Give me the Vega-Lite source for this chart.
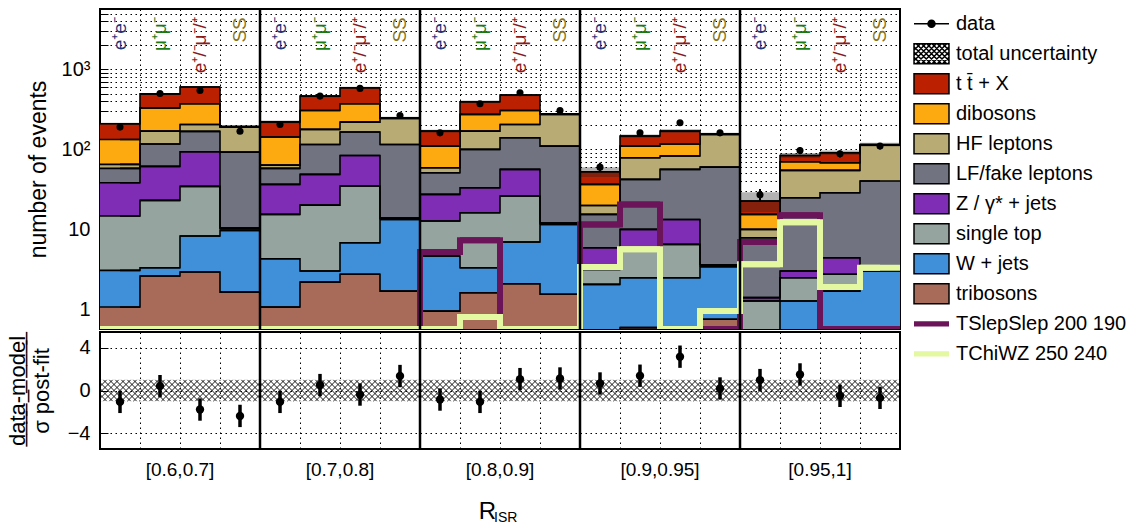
{
  "$schema": "https://vega.github.io/schema/vega-lite/v6.json",
  "padding": {"left": 5, "top": 6, "right": 0, "bottom": 0},
  "spacing": -4,
  "config": {
    "font": "Liberation Sans",
    "view": {"stroke": "black", "strokeWidth": 2},
    "axis": {"labelColor": "black", "titleColor": "black", "labelFont": "Liberation Sans", "titleFont": "Liberation Sans", "titleFontWeight": "normal"}
  },
  "datasets": {
    "stack": [
      {"bin":1,"proc":"t t̄ + X","n":209},{"bin":1,"proc":"dibosons","n":133},{"bin":1,"proc":"HF leptons","n":64.9},{"bin":1,"proc":"LF/fake leptons","n":57.9},{"bin":1,"proc":"Z / γ* + jets","n":38.2},{"bin":1,"proc":"single top","n":14.7},{"bin":1,"proc":"W + jets","n":3.07},{"bin":1,"proc":"tribosons","n":1.07},
      {"bin":2,"proc":"t t̄ + X","n":495},{"bin":2,"proc":"dibosons","n":331},{"bin":2,"proc":"HF leptons","n":169},{"bin":2,"proc":"LF/fake leptons","n":117},{"bin":2,"proc":"Z / γ* + jets","n":61.3},{"bin":2,"proc":"single top","n":23},{"bin":2,"proc":"W + jets","n":3.31},{"bin":2,"proc":"tribosons","n":2.61},
      {"bin":3,"proc":"t t̄ + X","n":601},{"bin":3,"proc":"dibosons","n":372},{"bin":3,"proc":"HF leptons","n":205},{"bin":3,"proc":"LF/fake leptons","n":168},{"bin":3,"proc":"Z / γ* + jets","n":93.3},{"bin":3,"proc":"single top","n":34.5},{"bin":3,"proc":"W + jets","n":8.25},{"bin":3,"proc":"tribosons","n":2.93},
      {"bin":4,"proc":"t t̄ + X","n":193},{"bin":4,"proc":"dibosons","n":191},{"bin":4,"proc":"HF leptons","n":190},{"bin":4,"proc":"LF/fake leptons","n":92.5},{"bin":4,"proc":"Z / γ* + jets","n":10.4},{"bin":4,"proc":"single top","n":10.2},{"bin":4,"proc":"W + jets","n":9.72},{"bin":4,"proc":"tribosons","n":1.64},
      {"bin":5,"proc":"t t̄ + X","n":221},{"bin":5,"proc":"dibosons","n":143},{"bin":5,"proc":"HF leptons","n":63.6},{"bin":5,"proc":"LF/fake leptons","n":57.9},{"bin":5,"proc":"Z / γ* + jets","n":36.5},{"bin":5,"proc":"single top","n":15.4},{"bin":5,"proc":"W + jets","n":4.29},{"bin":5,"proc":"tribosons","n":1.07},
      {"bin":6,"proc":"t t̄ + X","n":464},{"bin":6,"proc":"dibosons","n":307},{"bin":6,"proc":"HF leptons","n":178},{"bin":6,"proc":"LF/fake leptons","n":115},{"bin":6,"proc":"Z / γ* + jets","n":48.7},{"bin":6,"proc":"single top","n":20.1},{"bin":6,"proc":"W + jets","n":3.01},{"bin":6,"proc":"tribosons","n":2.19},
      {"bin":7,"proc":"t t̄ + X","n":589},{"bin":7,"proc":"dibosons","n":372},{"bin":7,"proc":"HF leptons","n":219},{"bin":7,"proc":"LF/fake leptons","n":165},{"bin":7,"proc":"Z / γ* + jets","n":84},{"bin":7,"proc":"single top","n":34.8},{"bin":7,"proc":"W + jets","n":6.8},{"bin":7,"proc":"tribosons","n":2.74},
      {"bin":8,"proc":"t t̄ + X","n":248},{"bin":8,"proc":"dibosons","n":246},{"bin":8,"proc":"HF leptons","n":244},{"bin":8,"proc":"LF/fake leptons","n":115},{"bin":8,"proc":"Z / γ* + jets","n":13.8},{"bin":8,"proc":"single top","n":13.6},{"bin":8,"proc":"W + jets","n":13.3},{"bin":8,"proc":"tribosons","n":1.69},
      {"bin":9,"proc":"t t̄ + X","n":169},{"bin":9,"proc":"dibosons","n":110},{"bin":9,"proc":"HF leptons","n":58.9},{"bin":9,"proc":"LF/fake leptons","n":51},{"bin":9,"proc":"Z / γ* + jets","n":27.4},{"bin":9,"proc":"single top","n":12.7},{"bin":9,"proc":"W + jets","n":4.64},{"bin":9,"proc":"tribosons","n":0.95},
      {"bin":10,"proc":"t t̄ + X","n":394},{"bin":10,"proc":"dibosons","n":274},{"bin":10,"proc":"HF leptons","n":169},{"bin":10,"proc":"LF/fake leptons","n":100},{"bin":10,"proc":"Z / γ* + jets","n":33.1},{"bin":10,"proc":"single top","n":16.1},{"bin":10,"proc":"W + jets","n":3.31},{"bin":10,"proc":"tribosons","n":1.61},
      {"bin":11,"proc":"t t̄ + X","n":477},{"bin":11,"proc":"dibosons","n":307},{"bin":11,"proc":"HF leptons","n":205},{"bin":11,"proc":"LF/fake leptons","n":140},{"bin":11,"proc":"Z / γ* + jets","n":56.2},{"bin":11,"proc":"single top","n":26.1},{"bin":11,"proc":"W + jets","n":6.94},{"bin":11,"proc":"tribosons","n":2.09},
      {"bin":12,"proc":"t t̄ + X","n":278},{"bin":12,"proc":"dibosons","n":276},{"bin":12,"proc":"HF leptons","n":274},{"bin":12,"proc":"LF/fake leptons","n":110},{"bin":12,"proc":"Z / γ* + jets","n":12},{"bin":12,"proc":"single top","n":11.8},{"bin":12,"proc":"W + jets","n":11.5},{"bin":12,"proc":"tribosons","n":1.54},
      {"bin":13,"proc":"t t̄ + X","n":52.5},{"bin":13,"proc":"dibosons","n":36.5},{"bin":13,"proc":"HF leptons","n":19.9},{"bin":13,"proc":"LF/fake leptons","n":15.4},{"bin":13,"proc":"Z / γ* + jets","n":5.89},{"bin":13,"proc":"single top","n":3.16},{"bin":13,"proc":"W + jets","n":2.05},{"bin":13,"proc":"tribosons","n":0.4},
      {"bin":14,"proc":"t t̄ + X","n":147},{"bin":14,"proc":"dibosons","n":110},{"bin":14,"proc":"HF leptons","n":78.6},{"bin":14,"proc":"LF/fake leptons","n":42.2},{"bin":14,"proc":"Z / γ* + jets","n":10},{"bin":14,"proc":"single top","n":5.35},{"bin":14,"proc":"W + jets","n":2.48},{"bin":14,"proc":"tribosons","n":0.59},
      {"bin":15,"proc":"t t̄ + X","n":169},{"bin":15,"proc":"dibosons","n":117},{"bin":15,"proc":"HF leptons","n":82.5},{"bin":15,"proc":"LF/fake leptons","n":56.2},{"bin":15,"proc":"Z / γ* + jets","n":13.3},{"bin":15,"proc":"single top","n":6.49},{"bin":15,"proc":"W + jets","n":2.48},{"bin":15,"proc":"tribosons","n":0.4},
      {"bin":16,"proc":"t t̄ + X","n":156},{"bin":16,"proc":"dibosons","n":155},{"bin":16,"proc":"HF leptons","n":154},{"bin":16,"proc":"LF/fake leptons","n":60},{"bin":16,"proc":"Z / γ* + jets","n":3.6},{"bin":16,"proc":"single top","n":3.5},{"bin":16,"proc":"W + jets","n":3.41},{"bin":16,"proc":"tribosons","n":0.75},
      {"bin":17,"proc":"t t̄ + X","n":22.6},{"bin":17,"proc":"dibosons","n":15.4},{"bin":17,"proc":"HF leptons","n":10},{"bin":17,"proc":"LF/fake leptons","n":7.85},{"bin":17,"proc":"Z / γ* + jets","n":1.4},{"bin":17,"proc":"single top","n":1.27},{"bin":17,"proc":"W + jets","n":0.4},{"bin":17,"proc":"tribosons","n":0.3},
      {"bin":18,"proc":"t t̄ + X","n":84},{"bin":18,"proc":"dibosons","n":70},{"bin":18,"proc":"HF leptons","n":54.6},{"bin":18,"proc":"LF/fake leptons","n":24.8},{"bin":18,"proc":"Z / γ* + jets","n":3.01},{"bin":18,"proc":"single top","n":2.48},{"bin":18,"proc":"W + jets","n":1.27},{"bin":18,"proc":"tribosons","n":0.3},
      {"bin":19,"proc":"t t̄ + X","n":90.7},{"bin":19,"proc":"dibosons","n":68},{"bin":19,"proc":"HF leptons","n":54.6},{"bin":19,"proc":"LF/fake leptons","n":28.7},{"bin":19,"proc":"Z / γ* + jets","n":4.42},{"bin":19,"proc":"single top","n":2.74},{"bin":19,"proc":"W + jets","n":1.69},{"bin":19,"proc":"tribosons","n":0.3},
      {"bin":20,"proc":"t t̄ + X","n":115},{"bin":20,"proc":"dibosons","n":114},{"bin":20,"proc":"HF leptons","n":113},{"bin":20,"proc":"LF/fake leptons","n":40.2},{"bin":20,"proc":"Z / γ* + jets","n":3.1},{"bin":20,"proc":"single top","n":3.05},{"bin":20,"proc":"W + jets","n":3.01},{"bin":20,"proc":"tribosons","n":0.3}
    ],
    "sig": [
      {"bin":1,"proc":"TSlepSlep 200 190","n":0.567},{"bin":2,"proc":"TSlepSlep 200 190","n":0.567},{"bin":3,"proc":"TSlepSlep 200 190","n":0.567},{"bin":4,"proc":"TSlepSlep 200 190","n":0.567},
      {"bin":5,"proc":"TSlepSlep 200 190","n":0.567},{"bin":6,"proc":"TSlepSlep 200 190","n":0.567},{"bin":7,"proc":"TSlepSlep 200 190","n":0.567},{"bin":8,"proc":"TSlepSlep 200 190","n":0.567},
      {"bin":9,"proc":"TSlepSlep 200 190","n":5.2},{"bin":10,"proc":"TSlepSlep 200 190","n":7.3},{"bin":11,"proc":"TSlepSlep 200 190","n":0.567},{"bin":12,"proc":"TSlepSlep 200 190","n":0.567},
      {"bin":13,"proc":"TSlepSlep 200 190","n":11.5},{"bin":14,"proc":"TSlepSlep 200 190","n":20.5},{"bin":15,"proc":"TSlepSlep 200 190","n":0.567},{"bin":16,"proc":"TSlepSlep 200 190","n":0.567},
      {"bin":17,"proc":"TSlepSlep 200 190","n":6.94},{"bin":18,"proc":"TSlepSlep 200 190","n":15},{"bin":19,"proc":"TSlepSlep 200 190","n":0.567},{"bin":20,"proc":"TSlepSlep 200 190","n":0.567},
      {"bin":1,"proc":"TChiWZ 250 240","n":0.567},{"bin":2,"proc":"TChiWZ 250 240","n":0.567},{"bin":3,"proc":"TChiWZ 250 240","n":0.567},{"bin":4,"proc":"TChiWZ 250 240","n":0.567},
      {"bin":5,"proc":"TChiWZ 250 240","n":0.567},{"bin":6,"proc":"TChiWZ 250 240","n":0.567},{"bin":7,"proc":"TChiWZ 250 240","n":0.567},{"bin":8,"proc":"TChiWZ 250 240","n":0.567},
      {"bin":9,"proc":"TChiWZ 250 240","n":0.567},{"bin":10,"proc":"TChiWZ 250 240","n":0.8},{"bin":11,"proc":"TChiWZ 250 240","n":0.567},{"bin":12,"proc":"TChiWZ 250 240","n":0.567},
      {"bin":13,"proc":"TChiWZ 250 240","n":3.38},{"bin":14,"proc":"TChiWZ 250 240","n":5.62},{"bin":15,"proc":"TChiWZ 250 240","n":0.567},{"bin":16,"proc":"TChiWZ 250 240","n":0.95},
      {"bin":17,"proc":"TChiWZ 250 240","n":3.65},{"bin":18,"proc":"TChiWZ 250 240","n":12.3},{"bin":19,"proc":"TChiWZ 250 240","n":1.9},{"bin":20,"proc":"TChiWZ 250 240","n":3.31}
    ],
    "obs": [
      {"bin":1,"n":190,"lo":176,"hi":204,"ulo":203,"uhi":215,"r":-1.07,"rlo":-2.12,"rhi":-0.02},
      {"bin":2,"n":500,"lo":478,"hi":522,"ulo":482,"uhi":508,"r":0.41,"rlo":-0.64,"rhi":1.46},
      {"bin":3,"n":546,"lo":523,"hi":569,"ulo":585,"uhi":617,"r":-1.79,"rlo":-2.84,"rhi":-0.74},
      {"bin":4,"n":169,"lo":156,"hi":182,"ulo":187,"uhi":199,"r":-2.39,"rlo":-3.44,"rhi":-1.34},
      {"bin":5,"n":205,"lo":191,"hi":219,"ulo":213,"uhi":229,"r":-1.07,"rlo":-2.12,"rhi":-0.02},
      {"bin":6,"n":464,"lo":442,"hi":486,"ulo":450,"uhi":478,"r":0.51,"rlo":-0.54,"rhi":1.56},
      {"bin":7,"n":579,"lo":555,"hi":603,"ulo":572,"uhi":606,"r":-0.38,"rlo":-1.43,"rhi":0.67},
      {"bin":8,"n":266,"lo":250,"hi":282,"ulo":240,"uhi":256,"r":1.36,"rlo":0.31,"rhi":2.41},
      {"bin":9,"n":161,"lo":148,"hi":174,"ulo":162,"uhi":176,"r":-0.85,"rlo":-1.9,"rhi":0.2},
      {"bin":10,"n":372,"lo":353,"hi":391,"ulo":380,"uhi":408,"r":-1.07,"rlo":-2.12,"rhi":-0.02},
      {"bin":11,"n":510,"lo":487,"hi":533,"ulo":462,"uhi":492,"r":1.07,"rlo":0.02,"rhi":2.12},
      {"bin":12,"n":307,"lo":289,"hi":325,"ulo":270,"uhi":286,"r":1.13,"rlo":0.08,"rhi":2.18},
      {"bin":13,"n":60,"lo":52,"hi":68,"ulo":45,"uhi":60,"r":0.66,"rlo":-0.39,"rhi":1.71},
      {"bin":14,"n":161,"lo":148,"hi":174,"ulo":140,"uhi":154,"r":1.39,"rlo":0.34,"rhi":2.44},
      {"bin":15,"n":215,"lo":200,"hi":230,"ulo":160,"uhi":178,"r":3.18,"rlo":2.13,"rhi":4.23},
      {"bin":16,"n":161,"lo":148,"hi":174,"ulo":150,"uhi":162,"r":0.19,"rlo":-0.86,"rhi":1.24},
      {"bin":17,"n":27,"lo":22,"hi":32,"ulo":16.5,"uhi":29,"r":0.98,"rlo":-0.07,"rhi":2.03},
      {"bin":18,"n":97,"lo":87,"hi":107,"ulo":78,"uhi":90,"r":1.51,"rlo":0.46,"rhi":2.56},
      {"bin":19,"n":88,"lo":79,"hi":97,"ulo":85,"uhi":97,"r":-0.5,"rlo":-1.55,"rhi":0.55},
      {"bin":20,"n":110,"lo":100,"hi":120,"ulo":109,"uhi":121,"r":-0.69,"rlo":-1.74,"rhi":0.36}
    ],
    "edges": [{"bin":5},{"bin":9},{"bin":13},{"bin":17}],
    "chan": [
      {"bin":1,"ch":"e⁺e⁻"},{"bin":2,"ch":"μ⁺μ⁻"},{"bin":3,"ch":"e⁺/⁻μ⁻/⁺"},{"bin":4,"ch":"SS"},
      {"bin":5,"ch":"e⁺e⁻"},{"bin":6,"ch":"μ⁺μ⁻"},{"bin":7,"ch":"e⁺/⁻μ⁻/⁺"},{"bin":8,"ch":"SS"},
      {"bin":9,"ch":"e⁺e⁻"},{"bin":10,"ch":"μ⁺μ⁻"},{"bin":11,"ch":"e⁺/⁻μ⁻/⁺"},{"bin":12,"ch":"SS"},
      {"bin":13,"ch":"e⁺e⁻"},{"bin":14,"ch":"μ⁺μ⁻"},{"bin":15,"ch":"e⁺/⁻μ⁻/⁺"},{"bin":16,"ch":"SS"},
      {"bin":17,"ch":"e⁺e⁻"},{"bin":18,"ch":"μ⁺μ⁻"},{"bin":19,"ch":"e⁺/⁻μ⁻/⁺"},{"bin":20,"ch":"SS"}
    ]
  },
  "vconcat": [
    {
      "width": 800,
      "height": 320,
      "layer": [
        {
          "data": {"name": "stack"},
          "mark": {"type": "bar", "clip": true},
          "encoding": {
            "x": {"field": "bin", "type": "ordinal", "scale": {"paddingInner": 0, "paddingOuter": 0},
              "axis": {"title": null, "labels": false, "ticks": false, "domain": false, "minExtent": 0, "maxExtent": 0, "grid": true, "gridDash": [1.5, 3.5], "gridColor": "black", "gridOpacity": 1, "bandPosition": 0,
                "values": [1,2,3,4,5,6,7,8,9,10,11,12,13,14,15,16,17,18,19,20]}},
            "y": {"field": "n", "type": "quantitative", "scale": {"type": "log", "domain": [0.567, 5700], "nice": false},
              "axis": {"title": "number of events", "titleFontSize": 23, "titlePadding": 11,
                "values": [0.6,0.7,0.8,0.9,1,2,3,4,5,6,7,8,9,10,20,30,40,50,60,70,80,90,100,200,300,400,500,600,700,800,900,1000,2000,3000,4000,5000],
                "labelExpr": "datum.value == 1 ? '1' : datum.value == 10 ? '10' : datum.value == 100 ? '10²' : datum.value == 1000 ? '10³' : ''",
                "labelFontSize": {"condition": {"test": "datum.value == 1 || datum.value == 10 || datum.value == 100 || datum.value == 1000", "value": 20}, "value": 0},
                "labelPadding": 18, "labelOverlap": false, "domain": false,
                "ticks": true, "tickSize": -8, "tickColor": "black",
                "grid": true, "gridDash": [1.5, 3.5], "gridColor": "black", "gridOpacity": 1}},
            "y2": {"datum": 0.1},
            "color": {"field": "proc", "type": "nominal",
              "scale": {
                "domain": ["data", "total uncertainty", "t t̄ + X", "dibosons", "HF leptons", "LF/fake leptons", "Z / γ* + jets", "single top", "W + jets", "tribosons", "TSlepSlep 200 190", "TChiWZ 250 240"],
                "range": ["#000000", "#ffffff", "#bb2000", "#fdaa10", "#b9ab74", "#717480", "#802db5", "#96a4a0", "#3f8fd9", "#a86b5a", "#6b1459", "#e4f7a1"]
              },
              "legend": {
                "title": null, "orient": "right", "offset": 10, "padding": 0,
                "symbolSize": 1225, "symbolOpacity": 1, "symbolStrokeWidth": 1.5,
                "labelFontSize": 20, "labelFont": "Liberation Sans", "labelColor": "black", "labelOffset": 6, "labelLimit": 400, "rowPadding": 0, "clipHeight": 29.5,
                "encode": {
                  "symbols": {
                    "update": {
                      "shape": {"signal": "datum.value == 'data' ? 'M-1,-0.571M1,0.571M-1,0H1M0.2,0A0.2,0.2 0 1,1 -0.2,0A0.2,0.2 0 1,1 0.2,0Z' : datum.value == 'total uncertainty' ? 'M-1,-0.571H1V0.571H-1ZM-1,0.5L-0.929,0.571M-1,0.2L-0.629,0.571M-1,-0.1L-0.329,0.571M-1,-0.4L-0.029,0.571M-0.871,-0.571L0.271,0.571M-0.571,-0.571L0.571,0.571M-0.271,-0.571L0.871,0.571M0.029,-0.571L1,0.4M0.329,-0.571L1,0.1M0.629,-0.571L1,-0.2M0.929,-0.571L1,-0.5M1,0.5L0.929,0.571M1,0.2L0.629,0.571M1,-0.1L0.329,0.571M1,-0.4L0.029,0.571M0.871,-0.571L-0.271,0.571M0.571,-0.571L-0.571,0.571M0.271,-0.571L-0.871,0.571M-0.029,-0.571L-1,0.4M-0.329,-0.571L-1,0.1M-0.629,-0.571L-1,-0.2M-0.929,-0.571L-1,-0.5' : (datum.value == 'TSlepSlep 200 190' || datum.value == 'TChiWZ 250 240') ? 'M-1,-0.571M1,0.571M-1,-0.15H1V0.15H-1Z' : 'M-1,-0.571H1V0.571H-1Z'"},
                      "stroke": {"signal": "(datum.value == 'TSlepSlep 200 190' || datum.value == 'TChiWZ 250 240') ? 'transparent' : 'black'"},
                      "strokeWidth": {"value": 1.5}
                    }
                  }
                }
              }
            }
          }
        },
        {
          "data": {"name": "obs"},
          "mark": {"type": "bar", "clip": true, "color": "#222222", "opacity": 0.35},
          "encoding": {
            "x": {"field": "bin", "type": "ordinal"},
            "y": {"field": "ulo", "type": "quantitative"},
            "y2": {"field": "uhi"}
          }
        },
        {
          "data": {"name": "stack"},
          "mark": {"type": "tick", "clip": true, "color": "black", "thickness": 1.6, "size": 40, "opacity": 1},
          "encoding": {
            "x": {"field": "bin", "type": "ordinal"},
            "y": {"field": "n", "type": "quantitative"}
          }
        },
        {
          "data": {"name": "stack"},
          "mark": {"type": "line", "clip": true, "color": "black", "strokeWidth": 1.6, "interpolate": "step"},
          "encoding": {
            "x": {"field": "bin", "type": "ordinal"},
            "y": {"field": "n", "type": "quantitative"},
            "detail": {"field": "proc"}
          }
        },
        {
          "data": {"name": "sig"},
          "transform": [{"filter": {"field": "proc", "equal": "TSlepSlep 200 190"}}],
          "mark": {"type": "line", "clip": true, "color": "#6b1459", "strokeWidth": 6, "interpolate": "step"},
          "encoding": {
            "x": {"field": "bin", "type": "ordinal"},
            "y": {"field": "n", "type": "quantitative"}
          }
        },
        {
          "data": {"name": "sig"},
          "transform": [{"filter": {"field": "proc", "equal": "TSlepSlep 200 190"}}],
          "mark": {"type": "tick", "clip": true, "color": "#6b1459", "thickness": 6, "size": 40, "opacity": 1},
          "encoding": {
            "x": {"field": "bin", "type": "ordinal"},
            "y": {"field": "n", "type": "quantitative"}
          }
        },
        {
          "data": {"name": "sig"},
          "transform": [{"filter": {"field": "proc", "equal": "TChiWZ 250 240"}}],
          "mark": {"type": "line", "clip": true, "color": "#e4f7a1", "strokeWidth": 6, "interpolate": "step"},
          "encoding": {
            "x": {"field": "bin", "type": "ordinal"},
            "y": {"field": "n", "type": "quantitative"}
          }
        },
        {
          "data": {"name": "sig"},
          "transform": [{"filter": {"field": "proc", "equal": "TChiWZ 250 240"}}],
          "mark": {"type": "tick", "clip": true, "color": "#e4f7a1", "thickness": 6, "size": 40, "opacity": 1},
          "encoding": {
            "x": {"field": "bin", "type": "ordinal"},
            "y": {"field": "n", "type": "quantitative"}
          }
        },
        {
          "data": {"name": "obs"},
          "mark": {"type": "rule", "color": "black", "strokeWidth": 2},
          "encoding": {
            "x": {"field": "bin", "type": "ordinal"},
            "y": {"field": "lo", "type": "quantitative"},
            "y2": {"field": "hi"}
          }
        },
        {
          "data": {"name": "obs"},
          "mark": {"type": "point", "filled": true, "color": "black", "size": 50, "opacity": 1},
          "encoding": {
            "x": {"field": "bin", "type": "ordinal"},
            "y": {"field": "n", "type": "quantitative"}
          }
        },
        {
          "data": {"name": "edges"},
          "mark": {"type": "rule", "color": "black", "strokeWidth": 2.5},
          "encoding": {
            "x": {"field": "bin", "type": "ordinal", "bandPosition": 0}
          }
        },
        {
          "data": {"name": "chan"},
          "transform": [{"filter": {"field": "ch", "equal": "e⁺e⁻"}}],
          "mark": {"type": "text", "angle": 270, "align": "right", "baseline": "middle", "fontSize": 19, "color": "#1f3377"},
          "encoding": {
            "x": {"field": "bin", "type": "ordinal"},
            "y": {"datum": 4500},
            "text": {"field": "ch"}
          }
        },
        {
          "data": {"name": "chan"},
          "transform": [{"filter": {"field": "ch", "equal": "μ⁺μ⁻"}}],
          "mark": {"type": "text", "angle": 270, "align": "right", "baseline": "middle", "fontSize": 19, "color": "#1a7a1a"},
          "encoding": {
            "x": {"field": "bin", "type": "ordinal"},
            "y": {"datum": 4500},
            "text": {"field": "ch"}
          }
        },
        {
          "data": {"name": "chan"},
          "transform": [{"filter": {"field": "ch", "equal": "e⁺/⁻μ⁻/⁺"}}],
          "mark": {"type": "text", "angle": 270, "align": "right", "baseline": "middle", "fontSize": 19, "color": "#8b1a1a"},
          "encoding": {
            "x": {"field": "bin", "type": "ordinal"},
            "y": {"datum": 4500},
            "text": {"field": "ch"}
          }
        },
        {
          "data": {"name": "chan"},
          "transform": [{"filter": {"field": "ch", "equal": "SS"}}],
          "mark": {"type": "text", "angle": 270, "align": "right", "baseline": "middle", "fontSize": 19, "color": "#8a7418"},
          "encoding": {
            "x": {"field": "bin", "type": "ordinal"},
            "y": {"datum": 4500},
            "text": {"field": "ch"}
          }
        }
      ]
    },
    {
      "width": 800,
      "height": 117,
      "layer": [
        {
          "data": {"name": "obs"},
          "mark": {"type": "point", "shape": "M-1,0.5L-0.967,0.533M-1,0.2L-0.667,0.533M-1,-0.1L-0.367,0.533M-1,-0.4L-0.067,0.533M-0.833,-0.533L0.233,0.533M-0.533,-0.533L0.533,0.533M-0.233,-0.533L0.833,0.533M0.067,-0.533L1,0.4M0.367,-0.533L1,0.1M0.667,-0.533L1,-0.2M0.967,-0.533L1,-0.5M1,0.5L0.967,0.533M1,0.2L0.667,0.533M1,-0.1L0.367,0.533M1,-0.4L0.067,0.533M0.833,-0.533L-0.233,0.533M0.533,-0.533L-0.533,0.533M0.233,-0.533L-0.833,0.533M-0.067,-0.533L-1,0.4M-0.367,-0.533L-1,0.1M-0.667,-0.533L-1,-0.2M-0.967,-0.533L-1,-0.5", "size": 1600, "filled": false, "color": "black", "strokeWidth": 0.9, "opacity": 1},
          "encoding": {
            "x": {"field": "bin", "type": "ordinal", "scale": {"paddingInner": 0, "paddingOuter": 0},
              "axis": {"title": "R", "titleFontSize": 24, "titlePadding": 20, "titleX": 387,
                "values": [1,2,3,4,5,6,7,8,9,10,11,12,13,14,15,16,17,18,19,20], "bandPosition": 0,
                "labelExpr": "datum.value == 3 ? '[0.6,0.7]' : datum.value == 7 ? '[0.7,0.8]' : datum.value == 11 ? '[0.8,0.9]' : datum.value == 15 ? '[0.9,0.95]' : datum.value == 19 ? '[0.95,1]' : ''",
                "labelFontSize": 19, "labelPadding": 11, "labelOffset": -20, "labelAngle": 0, "labelOverlap": false,
                "ticks": false, "domain": false, "grid": true, "gridDash": [1.5, 3.5], "gridColor": "black", "gridOpacity": 1}},
            "y": {"datum": 0, "type": "quantitative", "scale": {"domain": [-5.5, 5.5], "nice": false},
              "axis": {"title": ["d̲a̲t̲a̲-̲m̲o̲d̲e̲l̲", "σ post-fit"], "titleFontSize": 22, "titlePadding": 14,
                "values": [-4, -2, 0, 2, 4], "labelFontSize": 20, "labelPadding": 18, "domain": false,
                "ticks": true, "tickSize": -8, "tickColor": "black",
                "grid": true, "gridDash": [1.5, 3.5], "gridColor": "black", "gridOpacity": 1}}
          }
        },
        {
          "data": {"name": "obs"},
          "mark": {"type": "rule", "color": "black", "strokeWidth": 3.5},
          "encoding": {
            "x": {"field": "bin", "type": "ordinal"},
            "y": {"field": "rlo", "type": "quantitative"},
            "y2": {"field": "rhi"}
          }
        },
        {
          "data": {"name": "obs"},
          "mark": {"type": "point", "filled": true, "color": "black", "size": 70, "opacity": 1},
          "encoding": {
            "x": {"field": "bin", "type": "ordinal"},
            "y": {"field": "r", "type": "quantitative"}
          }
        },
        {
          "data": {"name": "edges"},
          "mark": {"type": "rule", "color": "black", "strokeWidth": 2.5},
          "encoding": {
            "x": {"field": "bin", "type": "ordinal", "bandPosition": 0}
          }
        },
        {
          "data": {"values": [{"t": "ISR"}]},
          "mark": {"type": "text", "align": "left", "baseline": "middle", "fontSize": 14, "dx": -26},
          "encoding": {
            "x": {"datum": 11, "type": "ordinal"},
            "y": {"datum": -12.0},
            "text": {"field": "t"}
          }
        }
      ]
    }
  ]
}
